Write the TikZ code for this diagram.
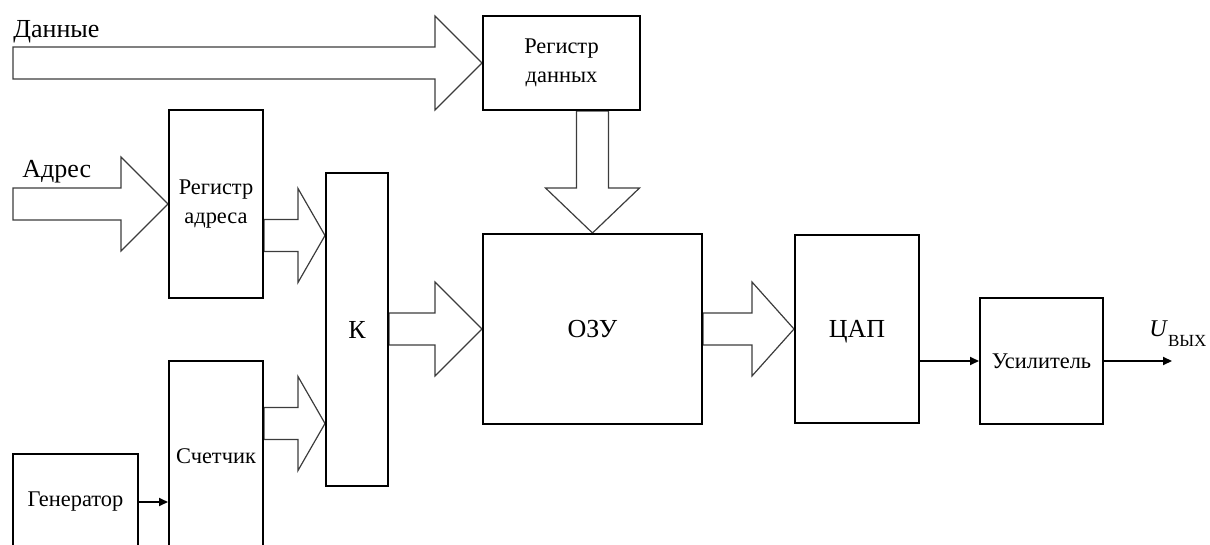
\documentclass[tikz,border=0pt]{standalone}
\usepackage{fontspec}
\setmainfont{Liberation Serif}
\usepackage{tikz}
\usetikzlibrary{arrows.meta,backgrounds,calc}
\definecolor{bsInk}{HTML}{000000}
\definecolor{bsLine}{HTML}{3C3C3C}
\tikzset{
  blk/.style={rectangle,draw=bsInk,line width=1pt,fill=white,
    align=center,inner sep=0pt,
    font=\fontsize{11.2}{14.5}\selectfont,text=bsInk},
  bigblk/.style={blk,font=\fontsize{13}{15}\selectfont,text depth=0pt},
  bus/.style={draw=bsLine,line width=0.6pt,line join=miter},
  sig/.style={-{Triangle[length=4.5pt,width=4pt]},line width=1pt,color=bsInk},
  lbl/.style={font=\fontsize{13}{15}\selectfont,inner sep=0pt,text=bsInk},
}
% wide bus arrow: #1 start, #2 tip, #3 head length
\newcommand{\hbus}[3]{%
  \draw[bus] let \p1=(#1), \p2=(#2) in
    (\x1,\y2+8pt) -- (\x2-#3,\y2+8pt) -- (\x2-#3,\y2+23.5pt) -- (\x2,\y2)
    -- (\x2-#3,\y2-23.5pt) -- (\x2-#3,\y2-8pt) -- (\x1,\y2-8pt) -- cycle;}
\newcommand{\vbus}[3]{%
  \draw[bus] let \p1=(#1), \p2=(#2) in
    (\x2-8pt,\y1) -- (\x2-8pt,\y2+#3) -- (\x2-23.5pt,\y2+#3) -- (\x2,\y2)
    -- (\x2+23.5pt,\y2+#3) -- (\x2+8pt,\y2+#3) -- (\x2+8pt,\y1) -- cycle;}
\begin{document}
\begin{tikzpicture}[x=0.5pt,y=-0.5pt]
  \useasboundingbox (0,0) rectangle (1210,545);
  \clip (0,0) rectangle (1210,545);
  % blocks
  \node[blk,minimum width=78.5pt,minimum height=47pt] (regd) at (561.5,63)
    {Регистр\\данных};
  \node[blk,minimum width=47pt,minimum height=94pt] (rega) at (216,204)
    {Регистр\\адреса};
  \node[bigblk,minimum width=31pt,minimum height=156.5pt] (kk) at (357,329.5) {К};
  \node[bigblk,minimum width=109.5pt,minimum height=95pt] (ozu) at (592.5,329) {ОЗУ};
  \node[bigblk,minimum width=62pt,minimum height=94pt] (dac) at (857,329) {ЦАП};
  \node[blk,minimum width=61.5pt,minimum height=63pt] (amp) at (1041.5,361) {Усилитель};
  \node[blk,minimum width=47pt,minimum height=95pt] (cnt) at (216,456) {Счетчик};
  \node[blk,minimum width=62.5pt,minimum height=48pt] (gen) at (75.5,502) {Генератор};

  % bus inputs
  \coordinate (din) at (13,63);
  \coordinate (ain) at (13,204);
  \node[lbl,anchor=base west] (ldata) at (13,38) {Данные};
  \node[lbl,anchor=base west] (laddr) at (22,178) {Адрес};

  \begin{scope}[on background layer]
    \hbus{din}{regd.west}{23.5pt}
    \hbus{ain}{rega.west}{23.5pt}
    \hbus{rega.east}{[yshift=47pt]kk.west}{13.5pt}
    \hbus{cnt.east}{[yshift=-47pt]kk.west}{13.5pt}
    \hbus{kk.east}{ozu.west}{23.5pt}
    \hbus{ozu.east}{dac.west}{21pt}
    \vbus{regd.south}{ozu.north}{22.5pt}
  \end{scope}

  % signal lines
  \draw[sig] (gen.east) -- (gen.east -| cnt.west);
  \draw[sig] (dac.east |- amp.west) -- (amp.west);
  \coordinate (out) at (1172,361);
  \draw[sig] (amp.east) -- (out);
  \node[lbl,font=\fontsize{12}{14}\selectfont,anchor=base west] (uout) at (1149,336)
    {\textit{U}\raisebox{-5pt}{\fontsize{8.5}{10}\selectfont ВЫХ}};
\end{tikzpicture}
\end{document}
